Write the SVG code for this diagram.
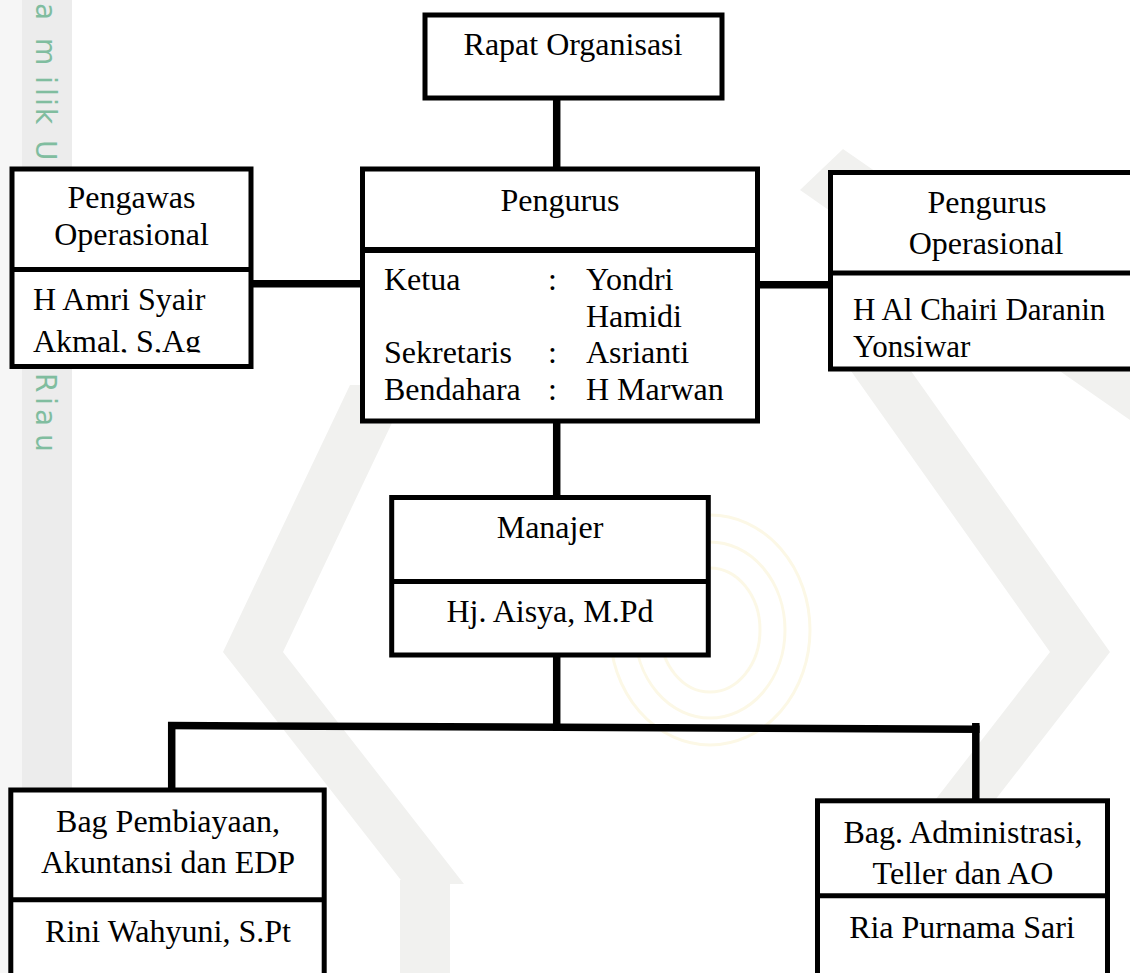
<svg xmlns="http://www.w3.org/2000/svg" width="1130" height="973" viewBox="0 0 1130 973">
<defs>
<style>
.box{fill:#fff;stroke:#000;stroke-width:5;stroke-linejoin:miter}
.div{stroke:#000;stroke-width:5}
.con{stroke:#000;stroke-width:7.5;fill:none;stroke-linecap:butt}
.t{font-family:"Liberation Serif","Times New Roman",serif;font-size:32px;fill:#000}
.m{text-anchor:middle}
.wm{font-family:"DejaVu Sans",sans-serif;font-size:28px;fill:#80bd9f}
.bg{fill:#f1f1ef}
</style>
<clipPath id="clipAmri"><rect x="14" y="272" width="235" height="80.5"/></clipPath>
</defs>
<rect x="0" y="0" width="1130" height="973" fill="#fff"/>
<g id="watermark">
<polygon class="bg" points="350,385 223,652 404,884 464,884 283,652 410,385"/>
<polygon class="bg" points="894,347 1110,652 930,884 870,884 1050,652 834,347"/>
<polygon class="bg" points="843,149 1130,348 1130,420 800,190"/>
<polygon class="bg" points="400,880 450,880 450,973 400,973"/>
<polygon class="bg" points="845,880 900,880 900,973 845,973"/>
<ellipse cx="710" cy="630" rx="100" ry="115" fill="none" stroke="#fcf8e6" stroke-width="3"/>
<ellipse cx="710" cy="630" rx="75" ry="88" fill="none" stroke="#fcf8e6" stroke-width="3"/>
<ellipse cx="710" cy="630" rx="50" ry="62" fill="none" stroke="#fcf8e6" stroke-width="3"/>
<rect x="0" y="0" width="22" height="973" fill="#f6f6f6"/>
<rect x="22" y="0" width="50" height="973" fill="#ececec"/>
<text class="wm" transform="translate(36,0) rotate(90)" x="3 22 38 76 88 98 108 130 140">a milik U</text>
<text class="wm" transform="translate(36,0) rotate(90)" x="373 397 409 434">Riau</text>
</g>
<g id="connectors">
<line class="con" x1="556.7" y1="98" x2="556.7" y2="169"/>
<line class="con" x1="556.7" y1="421" x2="556.7" y2="497.5"/>
<line class="con" x1="556.7" y1="655" x2="556.7" y2="727"/>
<line class="con" x1="251" y1="283.7" x2="362.5" y2="283.7"/>
<line class="con" x1="757.5" y1="284.7" x2="830.5" y2="284.7"/>
<line class="con" x1="168" y1="725.5" x2="979.6" y2="729.3"/>
<line class="con" x1="171.7" y1="722" x2="171.7" y2="790"/>
<line class="con" x1="975.8" y1="723" x2="975.8" y2="800.8"/>
</g>
<g id="rapat">
<rect class="box" x="425" y="15" width="297" height="83"/>
<text class="t m" x="573" y="55">Rapat Organisasi</text>
</g>
<g id="pengurus">
<rect class="box" x="362.5" y="169" width="395" height="252"/>
<line class="div" x1="362.5" y1="250" x2="757.5" y2="250" style="stroke-width:6"/>
<text class="t m" x="560" y="211">Pengurus</text>
<text class="t"><tspan x="384" y="290">Ketua</tspan><tspan x="384" y="363">Sekretaris</tspan><tspan x="384" y="400">Bendahara</tspan></text>
<text class="t"><tspan x="548" y="290">:</tspan><tspan x="548" y="363">:</tspan><tspan x="548" y="400">:</tspan></text>
<text class="t"><tspan x="586" y="290">Yondri</tspan><tspan x="586" y="327">Hamidi</tspan><tspan x="586" y="363">Asrianti</tspan><tspan x="586" y="400">H Marwan</tspan></text>
</g>
<g id="pengawas">
<rect class="box" x="12" y="169" width="239" height="197.5"/>
<line class="div" x1="12" y1="269.5" x2="251" y2="269.5"/>
<text class="t m"><tspan x="131.5" y="208">Pengawas</tspan><tspan x="131.5" y="245">Operasional</tspan></text>
<text class="t" clip-path="url(#clipAmri)"><tspan x="33" y="310">H Amri Syair</tspan><tspan x="33" y="352">Akmal, S,Ag</tspan></text>
</g>
<g id="pengurus-operasional">
<rect class="box" x="830.5" y="172.5" width="320" height="196.5"/>
<line class="div" x1="830.5" y1="273" x2="1150" y2="273"/>
<text class="t m"><tspan x="987" y="213">Pengurus</tspan><tspan x="986" y="254">Operasional</tspan></text>
<text class="t" style="font-size:31px"><tspan x="853" y="320">H Al Chairi Daranin</tspan><tspan x="853" y="357">Yonsiwar</tspan></text>
</g>
<g id="manajer">
<rect class="box" x="391.7" y="497.5" width="316.6" height="157.5"/>
<line class="div" x1="391.7" y1="581.5" x2="708.3" y2="581.5"/>
<text class="t m" x="550" y="538">Manajer</text>
<text class="t m" x="550" y="622">Hj. Aisya, M.Pd</text>
</g>
<g id="bag-pembiayaan">
<rect class="box" x="10.8" y="790" width="313.4" height="200"/>
<line class="div" x1="10.8" y1="899.8" x2="324.2" y2="899.8"/>
<text class="t m"><tspan x="168" y="832">Bag Pembiayaan,</tspan><tspan x="168" y="873">Akuntansi dan EDP</tspan></text>
<text class="t m" x="168" y="942">Rini Wahyuni, S.Pt</text>
</g>
<g id="bag-administrasi">
<rect class="box" x="817.5" y="800.8" width="290" height="200"/>
<line class="div" x1="817.5" y1="895.8" x2="1107.5" y2="895.8"/>
<text class="t m"><tspan x="963" y="843">Bag. Administrasi,</tspan><tspan x="963" y="884">Teller dan AO</tspan></text>
<text class="t m" x="962" y="938">Ria Purnama Sari</text>
</g>
</svg>
